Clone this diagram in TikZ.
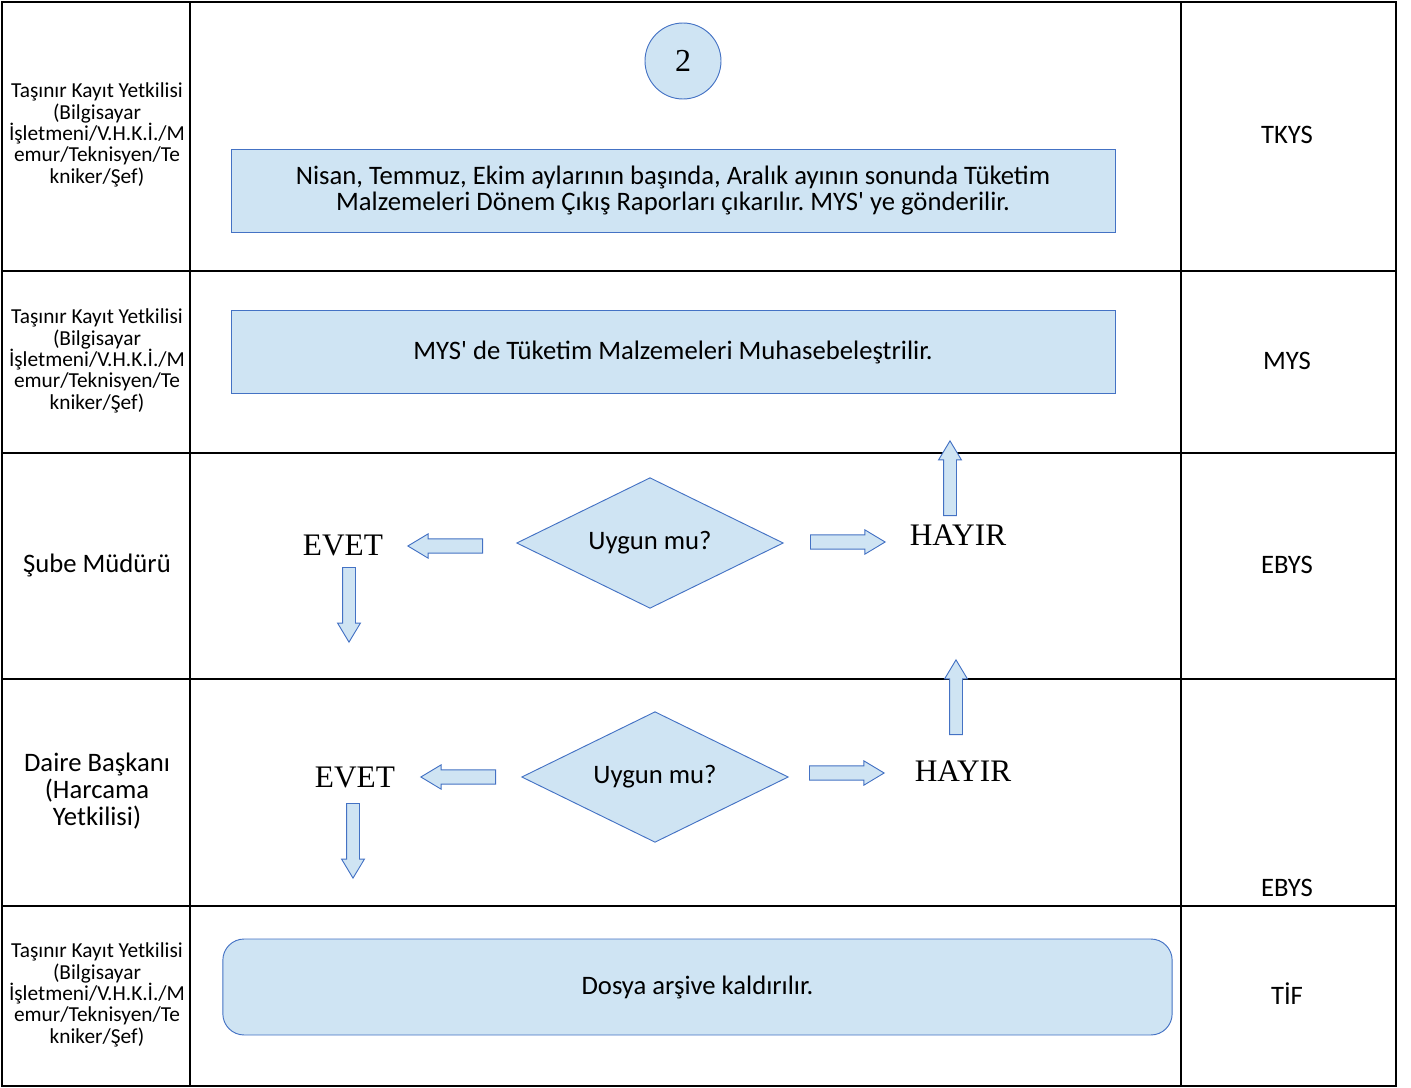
\documentclass[tikz,border=0pt]{standalone}
\usepackage{fontspec}
\newfontfamily\karlito{Carlito}
\newfontfamily\serifyazi{Liberation Serif}
\usetikzlibrary{shapes.geometric,shapes.arrows}
\definecolor{kutudolgu}{RGB}{207,228,243}
\definecolor{kutucizgi}{RGB}{68,114,196}
\frenchspacing
\begin{document}
\begin{tikzpicture}[x=0.75pt, y=-0.75pt, font=\karlito,
  kutu/.style={draw=kutucizgi, fill=kutudolgu, line width=0.7pt},
  etiket/.style={align=center, font=\karlito\fontsize{16}{16}\selectfont, inner sep=0pt},
  sistem/.style={font=\karlito\fontsize{20}{20}\selectfont, inner sep=0pt},
  karar/.style={kutu, diamond, aspect=2.03, minimum width=200pt, minimum height=98pt, inner sep=0pt, font=\karlito\fontsize{20}{20}\selectfont},
  cevap/.style={font=\serifyazi\fontsize{23.5}{26}\selectfont, inner sep=0pt},
  okblok/.style={kutu, single arrow, minimum height=56pt, minimum width=18pt, single arrow head extend=3.75pt, single arrow tip angle=62, inner xsep=0pt, inner ysep=5pt},
  okdikey/.style={okblok, minimum width=16.5pt, inner xsep=4.5pt, inner ysep=0pt}]

\useasboundingbox (0,0) rectangle (1411,1088);
\draw[line width=1.5pt] (2,2) rectangle (1396,1086);
\draw[line width=1.5pt] (190,2) -- (190,1086) (1181,2) -- (1181,1086);
\foreach \y in {271,453,679,906}
  \draw[line width=1.5pt] (2,\y) -- (1396,\y);

\node[etiket] (rol1) at (97,135) {Taşınır Kayıt Yetkilisi\\(Bilgisayar\\İşletmeni/V.H.K.İ./M\\emur/Teknisyen/Te\\kniker/Şef)};
\node[etiket] (rol2) at (97,361) {Taşınır Kayıt Yetkilisi\\(Bilgisayar\\İşletmeni/V.H.K.İ./M\\emur/Teknisyen/Te\\kniker/Şef)};
\node[sistem] (rol3) at (97,565) {Şube Müdürü};
\node[sistem, align=center] (rol4) at (97,791) {Daire Başkanı\\(Harcama\\Yetkilisi)};
\node[etiket] (rol5) at (97,995) {Taşınır Kayıt Yetkilisi\\(Bilgisayar\\İşletmeni/V.H.K.İ./M\\emur/Teknisyen/Te\\kniker/Şef)};

\node[sistem] (sis1) at (1287,135) {TKYS};
\node[sistem] (sis2) at (1287,361) {MYS};
\node[sistem] (sis3) at (1287,565) {EBYS};
\node[sistem] (sis4) at (1287,888) {EBYS};
\node[sistem] (sis5) at (1287,994) {TİF};

\node[kutu, circle, minimum size=57pt, inner sep=0pt, font=\serifyazi\fontsize{24}{26}\selectfont] (bag2) at (683,61) {2};

\node[kutu, minimum width=663pt, minimum height=62pt, align=center, font=\karlito\fontsize{20}{19.5}\selectfont] (rapor) at (673,191) {Nisan, Temmuz, Ekim aylarının başında, Aralık ayının sonunda Tüketim\\Malzemeleri Dönem Çıkış Raporları çıkarılır. MYS' ye gönderilir.};
\node[kutu, minimum width=663pt, minimum height=62pt, font=\karlito\fontsize{20}{19.5}\selectfont] (muhasebe) at (673,352) {MYS' de Tüketim Malzemeleri Muhasebeleştrilir.};

\node[karar] (uygun1) at (650,543) {Uygun mu?};
\node[cevap] (evet1) at (343,545) {EVET};
\node[cevap] (hayir1) at (958,535) {HAYIR};
\node[okblok, shape border rotate=180, anchor=tail] (ok1sol) at (483,546) {};
\node[okdikey, shape border rotate=270, anchor=tail] (ok1alt) at (349,567) {};
\node[okblok, anchor=tail] (ok1sag) at (810,542) {};
\node[okdikey, shape border rotate=90, anchor=tail] (ok1ust) at (950,516) {};

\node[karar] (uygun2) at (655,777) {Uygun mu?};
\node[cevap] (evet2) at (355,777) {EVET};
\node[cevap] (hayir2) at (963,771) {HAYIR};
\node[okblok, shape border rotate=180, anchor=tail] (ok2sol) at (496,777) {};
\node[okdikey, shape border rotate=270, anchor=tail] (ok2alt) at (353,803) {};
\node[okblok, anchor=tail] (ok2sag) at (809,773) {};
\node[okdikey, shape border rotate=90, anchor=tail] (ok2ust) at (956,735) {};

\node[kutu, rounded corners=16pt, minimum width=712pt, minimum height=72pt, font=\karlito\fontsize{20}{19.5}\selectfont] (arsiv) at (697.5,987) {Dosya arşive kaldırılır.};
\end{tikzpicture}
\end{document}
